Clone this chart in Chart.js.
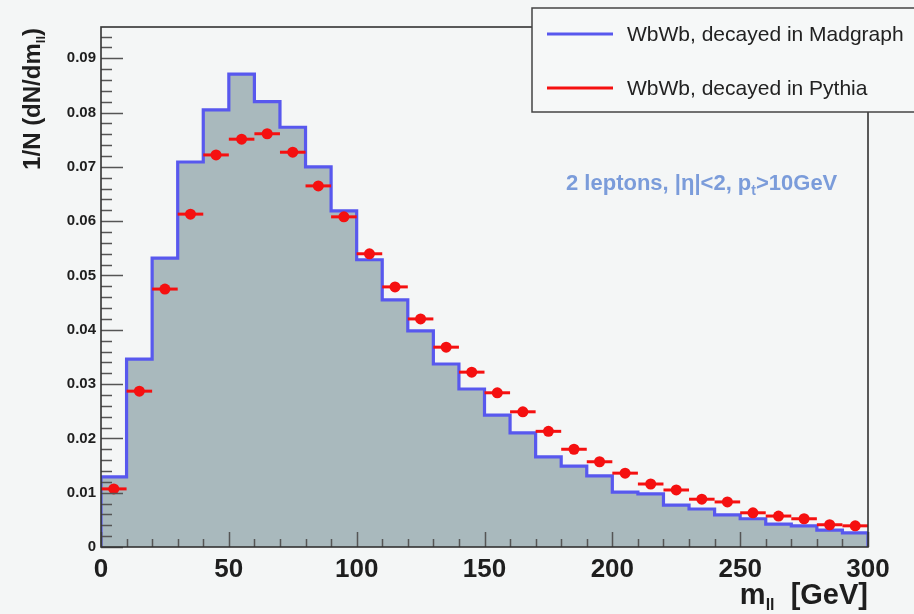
<!DOCTYPE html>
<html>
<head>
<meta charset="utf-8">
<title>m_ll WbWb</title>
<script src="https://cdn.jsdelivr.net/npm/chart.js@4.4.1/dist/chart.umd.min.js"></script>
<style>
  html, body { margin: 0; padding: 0; background: #f4f6f6; }
  canvas { display: block; }
</style>
</head>
<body>
<canvas id="chart" width="914" height="614"></canvas>
<script>
// bin low edges (GeV), bin width 10
const binLow = [0, 10, 20, 30, 40, 50, 60, 70, 80, 90, 100, 110, 120, 130, 140,
                150, 160, 170, 180, 190, 200, 210, 220, 230, 240, 250, 260, 270, 280, 290];
const binHigh = 300;
// bin centres for the points
const binCenter = [5, 15, 25, 35, 45, 55, 65, 75, 85, 95, 105, 115, 125, 135, 145,
                   155, 165, 175, 185, 195, 205, 215, 225, 235, 245, 255, 265, 275, 285, 295];

// WbWb, decayed in Madgraph (histogram)
const madgraph = [0.0129, 0.0346, 0.0532, 0.0709, 0.0805, 0.0871, 0.0820, 0.0773, 0.0700, 0.0619,
                  0.0529, 0.0455, 0.0398, 0.0337, 0.0291, 0.0243, 0.0210, 0.0166, 0.0149, 0.0131,
                  0.0101, 0.0098, 0.0077, 0.0070, 0.0059, 0.0052, 0.0042, 0.0039, 0.0031, 0.0026];
// WbWb, decayed in Pythia (points)
const pythia = [0.0107, 0.0287, 0.0475, 0.0613, 0.0722, 0.0751, 0.0761, 0.0727, 0.0665, 0.0608,
                0.0540, 0.0479, 0.0420, 0.0368, 0.0322, 0.0284, 0.0249, 0.0213, 0.0180, 0.0157,
                0.0136, 0.0116, 0.0105, 0.0088, 0.0083, 0.0063, 0.0057, 0.0052, 0.0041, 0.0039];

const xTicks = [0, 50, 100, 150, 200, 250, 300];
const yTicks = [0, 0.01, 0.02, 0.03, 0.04, 0.05, 0.06, 0.07, 0.08, 0.09];

const labels = ['WbWb, decayed in Madgraph', 'WbWb, decayed in Pythia'];
const BLUE = '#5858ee';
const RED = '#f51010';
const FILL = '#a9b9bd';
const FONT = '"Liberation Sans", Arial, Helvetica, sans-serif';

// histogram outline: start at 0, one point per bin low edge, close at the upper edge
const histPoints = [{ x: binLow[0], y: 0 }];
binLow.forEach((lo, i) => histPoints.push({ x: lo, y: madgraph[i] }));
histPoints.push({ x: binHigh, y: madgraph[madgraph.length - 1] });
histPoints.push({ x: binHigh, y: 0 });

const pythiaPoints = binCenter.map((c, i) => ({ x: c, y: pythia[i] }));

// draws a run of text pieces (with subscripts) starting at x
function drawRun(ctx, parts, x, y) {
    parts.forEach(p => {
        ctx.font = p.font;
        ctx.fillText(p.t, x, y + (p.dy || 0));
        x += ctx.measureText(p.t).width;
    });
}
function runWidth(ctx, parts) {
    let w = 0;
    parts.forEach(p => { ctx.font = p.font; w += ctx.measureText(p.t).width; });
    return w;
}

const rootStyle = {
    id: 'rootStyle',
    beforeDraw(chart) {
        const ctx = chart.ctx;
        ctx.save();
        ctx.fillStyle = '#f4f6f6';
        ctx.fillRect(0, 0, chart.width, chart.height);
        ctx.restore();
    },
    beforeDatasetDraw(chart, args) {
        // horizontal error bars (bin width) under the Pythia markers
        if (args.index !== 1) return;
        const ctx = chart.ctx;
        const xs = chart.scales.x, ys = chart.scales.y;
        ctx.save();
        ctx.strokeStyle = RED;
        ctx.lineWidth = 3;
        binCenter.forEach((c, i) => {
            const py = ys.getPixelForValue(pythia[i]);
            ctx.beginPath();
            ctx.moveTo(xs.getPixelForValue(binLow[i]), py);
            ctx.lineTo(xs.getPixelForValue(i + 1 < binLow.length ? binLow[i + 1] : binHigh), py);
            ctx.stroke();
        });
        ctx.restore();
    },
    afterDatasetsDraw(chart) {
        const ctx = chart.ctx;
        const a = chart.chartArea;
        const xs = chart.scales.x, ys = chart.scales.y;
        ctx.save();
        // ticks inside the frame
        ctx.strokeStyle = '#555';
        ctx.lineWidth = 1.5;
        ctx.beginPath();
        for (let v = 0; v <= 300.001; v += 10) {
            const px = Math.round(xs.getPixelForValue(v)) + 0.5;
            const len = (Math.round(v) % 50 === 0) ? 15 : 8;
            ctx.moveTo(px, a.bottom);
            ctx.lineTo(px, a.bottom - len);
        }
        for (let k = 0; k * 0.002 <= ys.max; k++) {
            const py = Math.round(ys.getPixelForValue(k * 0.002)) + 0.5;
            const len = (k % 5 === 0) ? 22 : 11;
            ctx.moveTo(a.left, py);
            ctx.lineTo(a.left + len, py);
        }
        ctx.stroke();
        // frame
        ctx.strokeStyle = '#333';
        ctx.lineWidth = 1.6;
        ctx.strokeRect(a.left, a.top, a.right - a.left, a.bottom - a.top);
        ctx.restore();
    },
    afterDraw(chart) {
        const ctx = chart.ctx;
        const a = chart.chartArea;
        ctx.save();
        ctx.fillStyle = '#1e1e1e';
        ctx.textBaseline = 'alphabetic';

        // x axis title, right aligned to the axis end
        const xt = [
            { t: 'm', font: 'bold 29px ' + FONT },
            { t: 'll', font: 'bold 16px ' + FONT, dy: 6 },
            { t: '  [GeV]', font: 'bold 29px ' + FONT }
        ];
        drawRun(ctx, xt, a.right - runWidth(ctx, xt), 604);

        // y axis title, rotated, aligned to the top of the axis
        const yt = [
            { t: '1/N (dN/dm', font: 'bold 24px ' + FONT },
            { t: 'll', font: 'bold 13px ' + FONT, dy: 5 },
            { t: ')', font: 'bold 24px ' + FONT }
        ];
        ctx.save();
        ctx.translate(40, 28);
        ctx.rotate(-Math.PI / 2);
        drawRun(ctx, yt, -runWidth(ctx, yt), 0);
        ctx.restore();

        // selection text
        ctx.fillStyle = '#7b9cda';
        const note = [
            { t: '2 leptons, |\u03b7|<2, p', font: 'bold 22px ' + FONT },
            { t: 't', font: 'bold 14px ' + FONT, dy: 5 },
            { t: '>10GeV', font: 'bold 22px ' + FONT }
        ];
        drawRun(ctx, note, 566, 190);

        // legend box (runs off the right edge like the original)
        const lx = 532, ly = 8, lh = 104;
        ctx.fillStyle = '#f6f8f8';
        ctx.fillRect(lx, ly, chart.width - lx + 10, lh);
        ctx.strokeStyle = '#444';
        ctx.lineWidth = 1.5;
        ctx.strokeRect(lx, ly, chart.width - lx + 10, lh);
        const rows = [
            { y: 34, color: BLUE, text: chart.data.datasets[0].label },
            { y: 88, color: RED, text: chart.data.datasets[1].label }
        ];
        rows.forEach(r => {
            ctx.strokeStyle = r.color;
            ctx.lineWidth = 3;
            ctx.beginPath();
            ctx.moveTo(547, r.y);
            ctx.lineTo(613, r.y);
            ctx.stroke();
            ctx.fillStyle = '#222';
            ctx.font = '21px ' + FONT;
            ctx.textBaseline = 'middle';
            ctx.fillText(r.text, 627, r.y + 1);
        });
        ctx.restore();
    }
};

new Chart(document.getElementById('chart').getContext('2d'), {
    type: 'scatter',
    data: {
        datasets: [{
            type: 'line',
            label: labels[0],
            data: histPoints,
            stepped: true,
            borderColor: BLUE,
            borderWidth: 3.2,
            backgroundColor: FILL,
            fill: 'origin',
            pointRadius: 0,
            order: 2
        }, {
            type: 'scatter',
            label: labels[1],
            data: pythiaPoints,
            pointRadius: 5.5,
            pointBackgroundColor: RED,
            pointBorderWidth: 0,
            order: 1
        }]
    },
    options: {
        responsive: false,
        animation: false,
        devicePixelRatio: 1,
        layout: { padding: { top: 27, right: 46, left: 0, bottom: 0 } },
        plugins: { legend: { display: false }, tooltip: { enabled: false } },
        scales: {
            x: {
                type: 'linear',
                min: 0,
                max: 300,
                grid: { display: false, drawTicks: false },
                border: { display: false },
                afterBuildTicks: scale => { scale.ticks = xTicks.map(v => ({ value: v })); },
                afterFit: scale => { scale.height = 67; },
                ticks: {
                    padding: 7,
                    maxRotation: 0,
                    autoSkip: false,
                    color: '#1e1e1e',
                    font: { family: FONT, size: 26, weight: 'bold' }
                }
            },
            y: {
                min: 0,
                max: 0.09576,
                grid: { display: false, drawTicks: false },
                border: { display: false },
                afterBuildTicks: scale => { scale.ticks = yTicks.map(v => ({ value: v })); },
                afterFit: scale => { scale.width = 101; },
                ticks: {
                    padding: 5,
                    autoSkip: false,
                    color: '#1e1e1e',
                    font: { family: FONT, size: 15, weight: 'bold' },
                    callback: v => (v === 0 ? '0' : v.toFixed(2))
                }
            }
        }
    },
    plugins: [rootStyle]
});
</script>
</body>
</html>
